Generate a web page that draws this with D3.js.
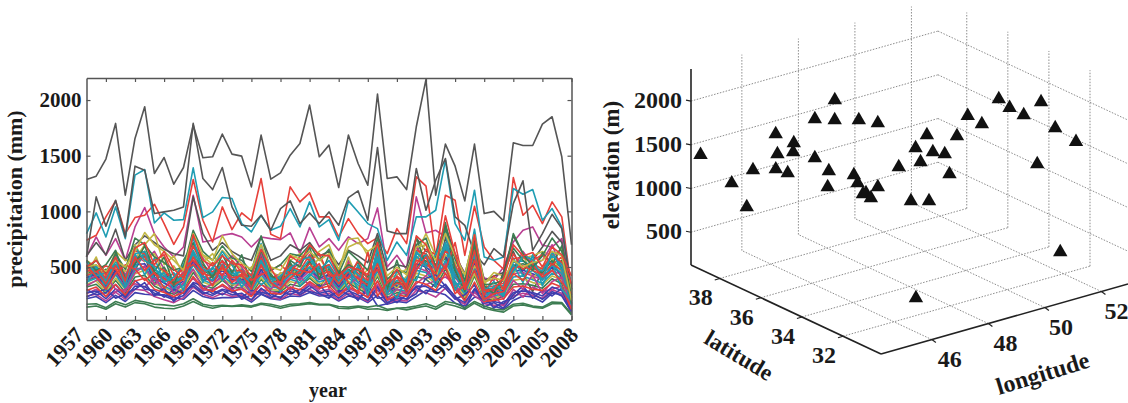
<!DOCTYPE html>
<html>
<head>
<meta charset="utf-8">
<script src="https://cdnjs.cloudflare.com/ajax/libs/d3/7.8.5/d3.min.js"></script>
<style>
  html, body { margin: 0; padding: 0; background: #fff; }
  svg { display: block; }
  text { font-family: "Liberation Serif", serif; font-weight: bold; fill: #1a1a1a; }
  .grid { fill: none; stroke: #8c8c8c; stroke-width: 1; stroke-dasharray: 1.5 1.5; }
</style>
</head>
<body>
<svg id="chart" width="1128" height="403"></svg>
<script>
// precipitation per station, 1958 to 2008
const years = d3.range(1958, 2009);
const yearTicks = d3.range(1960, 2009, 3);
const yearLabels = d3.range(1957, 2009, 3);
const precipTicks = [500, 1000, 1500, 2000];

const lineColors = {
  blue: "#3f3fae", green: "#3d7d52", red: "#e6403a", teal: "#1f9db3",
  magenta: "#b93f92", olive: "#c2b845", gray: "#555555"
};

const lowGreenA = [140,150,120,170,140,180,170,140,130,125,150,190,150,130,150,145,150,
  140,165,150,130,150,160,170,160,160,130,125,140,120,125,110,130,115,
  135,150,120,170,150,120,175,130,110,95,150,160,140,130,170,170,70];
const lowGreenB = [165,170,135,190,160,200,185,165,160,150,170,215,165,150,155,150,160,
  150,175,165,145,165,170,180,165,165,145,140,150,140,155,120,130,135,
  150,170,140,190,175,135,190,150,120,115,165,175,150,140,185,180,80];
const lowBlueA = [215,235,180,245,190,270,255,250,250,225,210,290,235,215,225,225,235,
  185,255,215,205,240,235,270,240,245,195,240,225,180,245,165,190,180,
  235,290,275,250,175,150,230,210,150,120,200,240,230,185,265,255,90];
const lowMagentaA = [240,255,195,275,210,300,290,235,205,180,225,320,255,225,265,235,250,
  200,290,225,210,265,245,300,250,265,205,265,235,190,295,175,205,195,
  290,270,230,310,215,165,285,170,155,160,240,265,245,220,295,265,95];
const lowBlueB = [270,285,215,305,225,330,325,265,240,205,245,350,275,245,290,250,265,
  205,310,240,230,285,265,335,265,285,220,285,250,200,320,180,220,215,
  330,325,280,345,230,180,305,175,190,170,270,285,270,240,320,290,105];
const midRedA = [290,320,235,345,250,375,400,300,270,235,270,415,310,280,345,285,300,
  235,350,265,255,320,295,370,310,330,240,320,285,225,375,205,250,235,
  370,345,290,445,300,200,365,190,200,215,320,330,300,290,355,320,120];
const midGreenA = [320,345,265,380,270,410,425,330,285,255,300,450,335,310,380,315,315,
  255,390,285,280,345,325,400,325,355,265,360,305,260,415,225,270,255,
  415,390,320,480,320,225,420,210,205,235,345,350,335,310,395,350,125];
const midOliveA = [345,375,275,400,300,440,470,350,315,270,310,480,365,330,395,340,335,
  275,405,300,290,370,345,415,345,380,285,375,325,275,435,245,290,270,
  445,420,350,510,345,240,440,225,225,250,380,395,360,340,420,385,140];
const midTealA = [365,400,300,430,305,470,505,380,330,285,335,520,385,345,425,350,360,
  285,430,320,310,390,360,440,365,400,295,400,340,285,465,250,300,285,
  470,450,365,560,370,260,480,235,240,265,410,420,385,355,445,400,150];
const midMagentaA = [385,420,310,450,330,490,480,400,360,300,350,540,405,370,440,380,370,
  310,450,335,330,405,385,465,385,415,315,420,360,305,485,270,325,300,
  500,465,395,530,415,275,500,250,255,280,440,450,420,385,470,430,170];
const midBlueA = [405,430,330,470,340,520,530,410,355,315,375,560,420,380,470,390,395,
  320,475,350,345,430,400,490,400,435,325,440,380,320,510,285,330,315,
  530,500,430,600,430,300,530,265,270,290,465,470,440,400,500,445,160];
const midRedB = [420,470,350,510,365,560,590,440,395,340,390,590,445,410,490,405,420,
  335,510,370,365,450,425,530,430,460,350,460,395,335,530,295,355,335,
  560,530,440,640,600,310,560,280,285,305,490,510,470,430,530,470,200];
const midGreenB = [440,480,365,525,370,570,610,455,400,350,405,620,470,420,510,425,430,
  350,525,385,375,470,440,545,440,485,355,480,415,345,560,310,365,350,
  585,555,460,665,460,320,590,290,295,320,510,530,490,445,560,495,175];
const upperTealA = [460,495,375,560,385,620,640,480,420,365,420,650,485,440,525,440,455,
  365,560,400,395,490,455,570,455,505,375,505,430,360,590,325,380,365,
  620,590,475,720,490,335,640,305,310,335,540,555,500,465,600,520,160];
const upperRedC = [480,510,395,570,400,645,620,510,470,380,440,690,500,455,555,465,470,
  385,580,415,405,510,470,610,470,520,390,530,445,375,615,340,405,380,
  650,615,500,690,515,350,660,320,330,355,575,590,530,480,620,540,190];
const upperGreenC = [480,560,450,620,480,760,700,590,540,470,500,830,640,560,690,580,560,
  460,780,470,520,620,600,700,560,660,440,640,560,470,760,390,470,450,
  700,760,500,850,570,380,720,340,350,380,800,620,500,600,760,640,170];
const upperOlive = [500,520,460,560,500,640,810,700,640,560,470,800,610,560,780,620,530,
  480,700,500,470,610,570,640,560,620,480,680,720,640,700,420,500,430,
  680,700,560,800,600,430,790,360,400,380,560,500,540,560,640,600,200];
const upperGrayC = [600,720,610,840,560,700,780,720,660,620,600,1130,800,650,720,640,590,
  560,770,560,600,700,650,720,600,640,520,650,600,540,800,470,520,500,
  760,640,620,870,620,430,780,380,420,450,780,620,560,680,820,720,220];
const upperMagenta = [590,770,605,755,560,860,1034,800,680,590,680,1145,725,740,785,800,770,
  680,770,755,746,806,620,854,680,755,650,770,710,755,1031,500,605,480,
  1130,806,830,770,590,450,590,400,380,500,725,830,860,695,680,755,250];
const upperRed = [740,785,950,1094,800,944,965,1064,890,704,860,1286,920,725,1040,836,986,
  914,1295,794,755,1220,1085,1166,950,950,770,935,800,710,764,620,845,710,
  1310,1226,590,1145,1100,605,1046,680,560,480,1304,965,1055,890,1085,950,300];
const upperTeal = [800,986,770,1040,755,1325,1376,896,986,920,926,1391,944,995,1124,1115,890,
  815,965,830,866,1025,860,1085,860,926,740,1094,995,890,845,560,725,605,
  950,950,1010,1460,890,740,1190,590,560,590,1205,1154,1196,920,1025,860,300];
const upperGray = [590,1130,866,1100,770,1406,1370,980,995,1010,1040,1790,1295,1196,1394,1040,875,
  866,965,830,1025,1094,890,986,890,995,875,1124,1184,920,1574,824,800,800,
  1385,1010,1280,1475,950,875,620,520,665,590,1070,1274,650,800,974,845,300];
const topGray = [1286,1316,1470,1790,1145,1655,1940,1340,1484,1244,1394,1775,1481,1490,1694,1514,1496,
  1220,1685,1289,1346,1505,1610,1955,1490,1595,1214,1685,1430,1235,2054,1295,1310,1196,
  1760,2186,1145,1604,1406,1094,1604,980,1000,914,1616,1592,1592,1784,1850,1490,700];

// stations whose lines cross the dense band
const bandRedA = [470,455,510,480,350,590,470,560,610,420,480,520,430,540,420,560,450,
  380,430,470,520,440,600,560,620,420,430,400,560,380,480,260,420,340,
  520,660,610,480,720,300,470,250,420,300,620,480,560,610,520,590,350];
const bandTealB = [350,520,290,560,400,620,430,580,370,450,290,640,360,500,380,470,320,
  440,340,410,280,500,330,420,510,360,470,300,520,250,680,330,220,400,
  380,610,320,700,290,450,600,200,330,240,520,360,610,330,540,300,190];
const bandGreenD = [560,470,520,650,390,530,690,460,590,340,560,720,540,400,610,450,610,
  340,650,420,380,560,500,680,390,610,430,520,470,410,720,300,560,280,
  760,520,590,900,470,280,690,330,260,430,670,560,470,630,520,690,230];
const bandOliveB = [430,590,360,510,460,700,550,620,430,510,380,600,540,620,470,520,400,
  500,560,330,450,410,520,480,580,450,350,590,380,480,510,370,310,420,
  560,720,410,610,540,230,510,380,180,340,430,620,390,510,580,450,140];
const bandMagentaB = [330,380,420,300,280,450,510,340,420,260,360,480,300,350,410,290,380,
  260,340,300,380,290,410,340,300,390,250,330,420,230,370,210,300,260,
  350,420,530,440,290,320,240,180,300,210,380,300,430,260,370,410,130];
const bandBlueC = [300,250,270,340,240,380,300,290,230,300,260,360,330,260,300,280,230,
  290,270,260,220,320,250,310,340,240,280,300,200,330,220,230,180,250,
  320,260,360,310,210,250,340,140,180,130,250,330,220,290,240,310,120].slice(0, 51);
const bandRedD = [520,410,300,440,520,480,380,450,310,390,500,560,470,330,520,360,440,
  300,520,360,300,400,470,450,530,310,490,360,260,640,240,360,410,280,
  470,590,380,510,260,340,650,210,260,280,440,380,520,410,470,360,260].slice(0, 51);
const bandGrayD = [400,450,330,480,310,530,600,350,470,320,420,620,380,410,560,330,400,
  270,600,340,300,520,380,560,310,450,280,420,500,250,620,280,300,270,
  700,480,380,760,520,200,760,300,220,460,640,440,280,470,560,400,150];
const bandTealD = [550,420,450,600,330,680,560,500,360,410,520,760,460,480,640,520,360,
  420,710,360,420,490,560,590,470,560,410,470,360,310,660,260,460,370,
  640,520,610,820,340,370,840,280,370,260,460,600,570,380,640,470,170];
const bandPurple = [260,300,240,280,300,350,320,400,280,230,300,400,290,300,330,270,320,
  240,300,280,260,310,270,360,280,300,240,310,270,230,340,200,240,280,
  300,340,380,410,350,190,270,200,240,150,300,230,320,280,300,330,110];
const bandGreenE = [380,410,480,430,360,470,640,420,500,350,340,590,520,430,470,540,390,
  400,480,440,330,540,410,500,490,520,300,440,540,300,520,340,330,300,
  490,620,500,580,400,340,500,300,250,400,520,470,540,430,470,560,210];
const bandOliveC = [560,500,420,640,560,570,700,800,520,600,430,710,600,520,650,560,480,
  430,640,460,410,560,620,570,640,700,470,750,760,600,560,390,430,480,
  620,800,600,700,500,420,680,350,450,420,500,580,600,640,600,660,280];
const bandBlueD = [230,270,300,220,260,300,360,240,310,190,280,330,260,290,250,310,210,
  250,260,220,280,250,300,280,260,220,290,250,210,290,150,170,240,210,
  260,400,430,330,240,120,300,240,130,190,220,300,260,210,280,240,100].slice(0, 51);
const bandMagentaC = [450,520,350,620,430,600,550,640,480,350,460,680,580,450,520,600,500,
  360,620,400,440,480,530,640,480,500,370,560,420,330,600,320,310,380,
  690,520,470,600,480,260,620,240,300,330,480,640,520,560,700,480,180];
const bandRedE = [500,560,430,590,380,670,720,520,640,480,400,790,560,510,600,530,520,
  420,660,490,340,600,540,700,610,600,420,500,480,430,720,360,480,310,
  780,700,480,960,620,300,790,290,300,400,700,600,630,500,680,610,420];
const bandTealE = [420,460,340,520,420,500,620,390,450,300,430,620,420,380,500,400,480,
  330,540,350,360,430,450,500,410,470,340,460,300,380,560,290,350,330,
  600,500,560,680,420,310,650,260,270,240,580,420,470,390,520,440,200];

// later entries paint over earlier ones
const seriesList = [
  [upperMagenta, lineColors.magenta], [upperRed, lineColors.red], [upperTeal, lineColors.teal],
  [upperGray, lineColors.gray], [topGray, lineColors.gray], [upperGrayC, lineColors.gray],
  [bandOliveC, lineColors.olive], [bandGrayD, lineColors.gray], [bandMagentaC, lineColors.magenta],
  [midGreenA, lineColors.green], [midGreenB, lineColors.green], [bandGreenE, lineColors.green],
  [midMagentaA, lineColors.magenta], [midBlueA, lineColors.blue], [bandOliveB, lineColors.olive],
  [midOliveA, lineColors.olive], [midTealA, lineColors.teal], [bandTealE, lineColors.teal],
  [lowBlueA, lineColors.blue], [bandPurple, lineColors.magenta], [lowMagentaA, lineColors.magenta],
  [lowBlueB, lineColors.blue], [bandBlueC, lineColors.blue], [bandBlueD, lineColors.blue],
  [bandMagentaB, lineColors.magenta], [upperRedC, lineColors.red], [midRedA, lineColors.red],
  [bandTealB, lineColors.teal], [upperTealA, lineColors.teal], [midRedB, lineColors.red],
  [bandGreenD, lineColors.green], [bandRedA, lineColors.red], [bandTealD, lineColors.teal],
  [bandRedD, lineColors.red], [upperGreenC, lineColors.green], [upperOlive, lineColors.olive],
  [bandRedE, lineColors.red], [lowGreenA, lineColors.green], [lowGreenB, lineColors.green]
];

// stations in the right panel
const stationLon = [44.40,44.57,44.83,45.38,45.71,45.79,45.66,46.18,45.33,46.54,47.05,46.93,47.87,46.35,46.46,46.50,47.23,47.35,47.36,48.15,49.08,49.70,50.06,50.40,51.13,51.36,51.75,51.92,52.45,52.67,51.80,48.84,49.24,49.61,49.11,48.60,49.80,48.02,47.68,47.76,48.50,48.90,52.28,47.34,45.01];
const stationLat = [39.21,37.93,37.25,36.90,37.27,37.46,36.70,37.12,35.98,36.59,36.32,36.16,36.28,36.33,35.80,35.91,35.64,35.62,35.38,35.74,34.63,34.02,33.99,33.77,33.95,33.74,33.59,32.98,33.02,32.31,33.00,34.85,34.56,34.49,34.98,35.34,34.52,35.56,35.67,35.54,34.61,34.28,32.54,32.77,37.80];
const stationElev = [1400,1200,1400,1800,1500,1300,1350,1600,1700,1900,2100,1900,1800,1500,1400,1200,1300,1200,1100,1800,1700,1700,1900,1800,2000,1900,1800,2000,1650,1550,1300,1550,1500,1450,1350,1300,1200,1100,1050,1000,1000,1000,300,200,900];
const lonTicks = [46, 48, 50, 52];
const latTicks = [32, 34, 36, 38];
const elevTicks = [500, 1000, 1500, 2000];

const svg = d3.select("#chart");

// left panel
const x = d3.scaleLinear().domain([1958, 2008]).range([86.5, 571.5]);
const y = d3.scaleLinear().domain([24, 2198]).range([320, 78]);

const lineGen = d3.line().x((d, i) => x(years[i])).y(d => y(d));

const left = svg.append("g");
left.append("g").selectAll("path").data(seriesList).join("path")
  .attr("d", d => lineGen(d[0]))
  .attr("fill", "none")
  .attr("stroke", d => d[1])
  .attr("stroke-width", 1.6)
  .attr("stroke-linejoin", "round");

function styleAxis(g) {
  g.selectAll(".domain").attr("stroke", "#555").attr("stroke-width", 1.5);
  g.selectAll(".tick line").attr("stroke", "#555").attr("stroke-width", 1.2);
  g.selectAll("text").attr("font-size", 21).attr("font-family", "Liberation Serif").attr("font-weight", "bold").attr("fill", "#1a1a1a");
}

left.append("g").attr("transform", "translate(0,320)")
  .call(d3.axisBottom(x).tickValues(yearTicks).tickSize(-4).tickSizeOuter(0).tickFormat(""))
  .call(styleAxis);
left.append("g").attr("transform", "translate(0,78)")
  .call(d3.axisTop(x).tickValues(yearTicks).tickSize(-4).tickSizeOuter(0).tickFormat(""))
  .call(styleAxis);
left.append("g").attr("transform", "translate(86.5,0)")
  .call(d3.axisLeft(y).tickValues(precipTicks).tickSize(-4).tickSizeOuter(0).tickPadding(5).tickFormat(d => d))
  .call(styleAxis);
left.append("g").attr("transform", "translate(571.5,0)")
  .call(d3.axisRight(y).tickValues(precipTicks).tickSize(-4).tickSizeOuter(0).tickFormat(""))
  .call(styleAxis);

left.append("g").selectAll("text").data(yearLabels).join("text")
  .attr("text-anchor", "end")
  .attr("font-size", 22)
  .attr("transform", d => `translate(${x(d) + 8},${336}) rotate(-47)`)
  .text(d => d);

left.append("text").attr("text-anchor", "middle").attr("font-size", 20)
  .attr("x", 328).attr("y", 397).text("year");
left.append("text").attr("text-anchor", "middle").attr("font-size", 22)
  .attr("transform", "translate(22,199) rotate(-90)").text("precipitation (mm)");

// right panel, oblique projection of the 3D box
const lonSx = d3.scaleLinear().domain([44.2, 52.94]).range([0, 247]);
const lonSy = d3.scaleLinear().domain([44.2, 52.94]).range([0, -70]);
const latSx = d3.scaleLinear().domain([30.15, 39.4]).range([0, -190]);
const latSy = d3.scaleLinear().domain([30.15, 39.4]).range([0, -89]);
const elevSy = d3.scaleLinear().domain([125, 2367]).range([0, -196]);

const lonMin = lonSx.domain()[0], lonMax = lonSx.domain()[1];
const latMin = latSx.domain()[0], latMax = latSx.domain()[1];
const elevMin = elevSy.domain()[0], elevMax = elevSy.domain()[1];

function project(lon, lat, elev) {
  return [881 + lonSx(lon) + latSx(lat), 354 + lonSy(lon) + latSy(lat) + elevSy(elev)];
}

const right = svg.append("g");
const seg = (a, b) => d3.line()([project(...a), project(...b)]);
const gridSegs = [];
lonTicks.forEach(l => {
  gridSegs.push(seg([l, latMin, elevMin], [l, latMax, elevMin]));
  gridSegs.push(seg([l, latMax, elevMin], [l, latMax, elevMax]));
});
latTicks.forEach(l => {
  gridSegs.push(seg([lonMin, l, elevMin], [lonMax, l, elevMin]));
  gridSegs.push(seg([lonMax, l, elevMin], [lonMax, l, elevMax]));
});
elevTicks.forEach(e => {
  gridSegs.push(seg([lonMin, latMax, e], [lonMax, latMax, e]));
  gridSegs.push(seg([lonMax, latMax, e], [lonMax, latMin, e]));
});
right.append("g").selectAll("path").data(gridSegs).join("path").attr("class", "grid").attr("d", d => d);

// the three drawn box edges
const edges = [
  seg([lonMin, latMax, elevMin], [lonMin, latMax, elevMax]),
  seg([lonMin, latMax, elevMin], [lonMin, latMin, elevMin]),
  seg([lonMin, latMin, elevMin], [lonMax, latMin, elevMin])
];
right.append("g").selectAll("path").data(edges).join("path")
  .attr("d", d => d).attr("fill", "none").attr("stroke", "#222").attr("stroke-width", 1.6);

// ticks
elevTicks.forEach(e => {
  const p = project(lonMin, latMax, e);
  right.append("line").attr("x1", p[0] - 5).attr("y1", p[1] - 1).attr("x2", p[0]).attr("y2", p[1]).attr("stroke", "#222").attr("stroke-width", 1.2);
  right.append("text").attr("text-anchor", "end").attr("font-size", 24)
    .attr("x", p[0] - 9).attr("y", p[1] + 7).text(e);
});
latTicks.forEach(l => {
  const p = project(lonMin, l, elevMin);
  right.append("line").attr("x1", p[0] - 5).attr("y1", p[1] + 1.5).attr("x2", p[0]).attr("y2", p[1]).attr("stroke", "#222").attr("stroke-width", 1.2);
  right.append("text").attr("text-anchor", "middle").attr("font-size", 24)
    .attr("x", p[0] - 19).attr("y", p[1] + 27).text(l);
});
lonTicks.forEach(l => {
  const p = project(l, latMin, elevMin);
  right.append("line").attr("x1", p[0] + 4).attr("y1", p[1] + 3).attr("x2", p[0]).attr("y2", p[1]).attr("stroke", "#222").attr("stroke-width", 1.2);
  right.append("text").attr("text-anchor", "middle").attr("font-size", 24)
    .attr("x", p[0] + 18 - (l - 46) / 2).attr("y", p[1] + 27).text(l);
});

right.append("g").selectAll("path").data(stationLon).join("path")
  .attr("d", d3.symbol(d3.symbolTriangle, 90))
  .attr("transform", (d, i) => {
    const p = project(stationLon[i], stationLat[i], stationElev[i]);
    return `translate(${p[0]},${p[1] + 1})`;
  })
  .attr("fill", "#111");

right.append("text").attr("text-anchor", "middle").attr("font-size", 23)
  .attr("transform", "translate(619,165) rotate(-90)").text("elevation (m)");
right.append("text").attr("text-anchor", "middle").attr("font-size", 23)
  .attr("transform", "translate(735,362) rotate(31)").text("latitude");
right.append("text").attr("text-anchor", "middle").attr("font-size", 24)
  .attr("transform", "translate(1045,381) rotate(-17)").text("longitude");
</script>
</body>
</html>
